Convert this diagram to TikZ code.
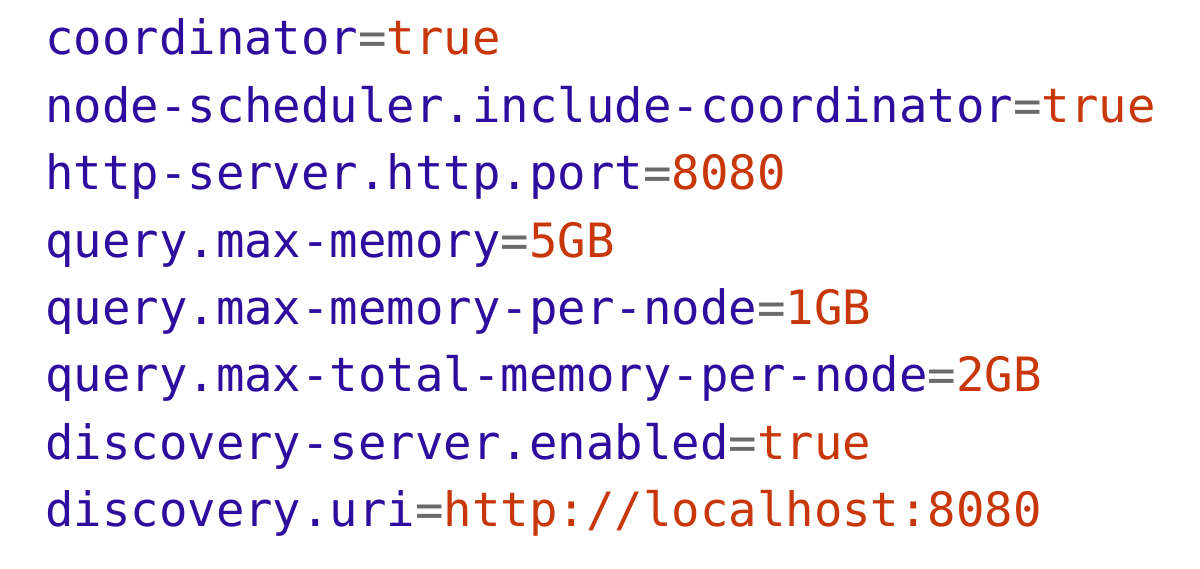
\documentclass[tikz,border=0pt]{standalone}
\usepackage{fontspec}
\setmonofont{DejaVu Sans Mono}
\definecolor{keyc}{HTML}{2E0C9E}
\definecolor{valc}{HTML}{C8370A}
\definecolor{eqc}{HTML}{6A6A6A}
\newcommand{\kv}[2]{\textcolor{keyc}{#1}\textcolor{eqc}{=}\textcolor{valc}{#2}}
\begin{document}
\begin{tikzpicture}[x=1pt,y=1pt,
  line/.style={anchor=base west,inner sep=0pt,font=\ttfamily\fontsize{47.3}{50}\selectfont}]
\useasboundingbox (0,0) rectangle (1200,569);
\node[line] (l1) at (45,514) {\kv{coordinator}{true}};
\node[line] (l2) at (45,446.6) {\kv{node-scheduler.include-coordinator}{true}};
\node[line] (l3) at (45,379.2) {\kv{http-server.http.port}{8080}};
\node[line] (l4) at (45,311.8) {\kv{query.max-memory}{5GB}};
\node[line] (l5) at (45,244.4) {\kv{query.max-memory-per-node}{1GB}};
\node[line] (l6) at (45,177) {\kv{query.max-total-memory-per-node}{2GB}};
\node[line] (l7) at (45,109.6) {\kv{discovery-server.enabled}{true}};
\node[line] (l8) at (45,42.2) {\kv{discovery.uri}{http://localhost:8080}};
\end{tikzpicture}
\end{document}
